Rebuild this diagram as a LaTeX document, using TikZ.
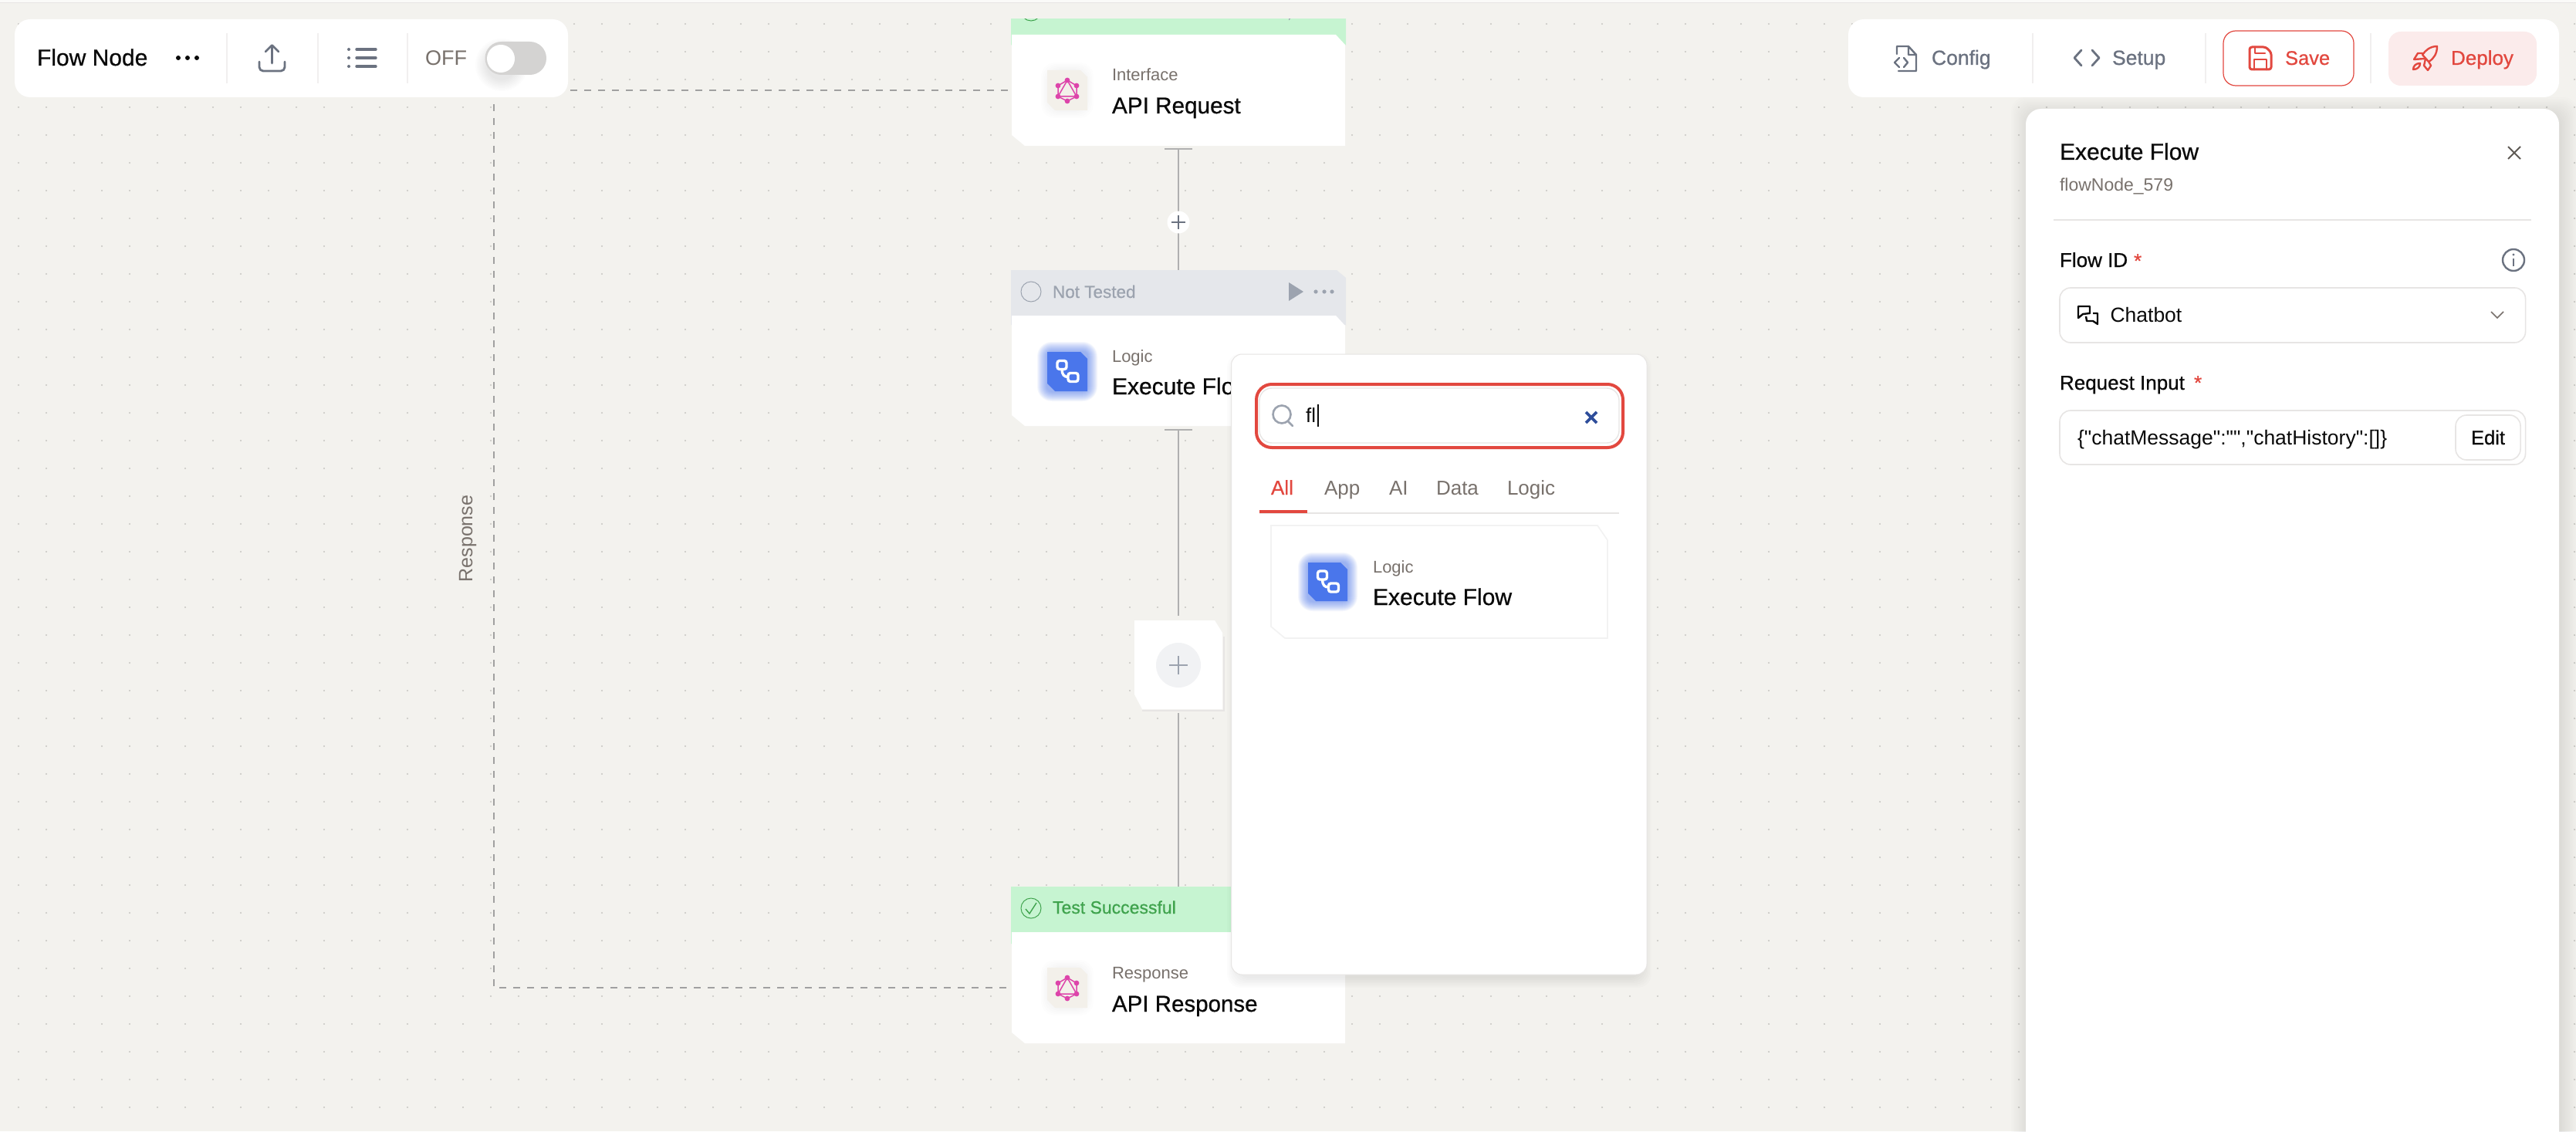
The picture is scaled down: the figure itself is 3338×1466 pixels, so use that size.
\documentclass[tikz,border=0pt]{standalone}
\usepackage{fontspec}
\setmainfont{Liberation Sans}
\newfontfamily\regf{Liberation Sans}
\newfontfamily\medf[FakeBold=0.7]{Liberation Sans}
\newcommand\fsz[1]{\fontsize{\fpeval{#1/2}}{\fpeval{#1/2}}\selectfont}
\definecolor{bgc}{HTML}{F3F2EE}
\definecolor{dotc}{HTML}{C6C6C2}
\definecolor{inkc}{HTML}{0A0A0A}
\definecolor{stonec}{HTML}{78716C}
\definecolor{slatec}{HTML}{6B7280}
\definecolor{mutedc}{HTML}{9CA3AF}
\definecolor{redc}{HTML}{E2483F}
\definecolor{hairc}{HTML}{E7E5E4}
\definecolor{greenh}{HTML}{C6F4D1}
\definecolor{greent}{HTML}{3FA34D}
\definecolor{greyh}{HTML}{E5E7EB}
\definecolor{bluec}{HTML}{4A76EB}
\definecolor{pinkc}{HTML}{DD44AA}
\definecolor{iconbg}{HTML}{F3F0EA}
\definecolor{deployc}{HTML}{FBEBEB}
\definecolor{navyc}{HTML}{2F4E9B}
\definecolor{connc}{HTML}{B0B0B0}
\definecolor{dashc}{HTML}{A0A0A0}
\tikzset{
  tx/.style={anchor=base west,inner sep=0pt,outer sep=0pt},
  rg/.style 2 args={tx,font=\regf\fsz{#1},text=#2},
  md/.style 2 args={tx,font=\medf\fsz{#1},text=#2},
  conn/.style={draw=connc,line width=1pt},
  dashline/.style={draw=dashc,line width=1pt,dash pattern=on 4.5pt off 4.5pt},
  divd/.style={draw=hairc!60!white,line width=.6pt},
  icn/.style={draw=slatec,line width=1.4pt,line cap=round,line join=round},
  redi/.style={draw=redc,line width=1.5pt,line cap=round,line join=round},
}
\def\chamfparse#1/#2/#3/#4\relax{\def\ca{#1}\def\cb{#2}\def\cc{#3}\def\cd{#4}}
% name, cx, cy, w, h, path style, chamfers NE-dx/NE-dy/SW-dx/SW-dy
\newcommand\chamfbox[7]{%
  \chamfparse#7\relax
  \path[#6] (#2-#4/2,#3-#5/2) -- (#2+#4/2-\ca,#3-#5/2) -- (#2+#4/2,#3-#5/2+\cb) -- (#2+#4/2,#3+#5/2)
     -- (#2-#4/2+\cc,#3+#5/2) -- (#2-#4/2,#3+#5/2-\cd) -- cycle;
  \node[rectangle,inner sep=0pt,outer sep=0pt,minimum width=\fpeval{#4/2}pt,minimum height=\fpeval{#5/2}pt] (#1) at (#2,#3) {};}
\newcommand\softglow[5]{% x1 y1 x2 y2 colour
  \foreach \r in {1,...,13}{\fill[#5,opacity=.055,rounded corners=\fpeval{3+\r/2}pt] (#1-\r,#2-\r) rectangle (#3+\r,#4+\r);}}
\newcommand\softshade[6]{% x1 y1 x2 y2 spread opacity
  \foreach \r in {2,4,...,#5}{\fill[black,opacity=#6,rounded corners=9pt] (#1-\r,#2-\r) rectangle (#3+\r,#4+\r);}}
\newcommand\gqlicon[2]{%
  \begin{scope}[shift={(#1,#2)}]
    \draw[pinkc,line width=.75pt,line join=round] (0,-13)--(12,-6)--(12,8)--(0,14)--(-12,8)--(-12,-6)--cycle;
    \draw[pinkc,line width=.75pt,line join=round] (0,-13)--(12,8)--(-12,8)--cycle;
    \foreach \px/\py in {0/-13,12/-6,12/8,0/14,-12/8,-12/-6}{\fill[pinkc] (\px,\py) circle (3.4);}
  \end{scope}}
\newcommand\chainicon[2]{%
  \begin{scope}[shift={(#1,#2)}]
    \draw[white,line width=1.7pt,rounded corners=1.5pt] (-13,-14) rectangle (-1,-3);
    \draw[white,line width=1.7pt,rounded corners=1.5pt] (1,2) rectangle (14,13);
    \draw[white,line width=1.7pt] (-7,-3) .. controls (-7,4) and (-4,7) .. (1,7);
  \end{scope}}
\begin{document}
\begin{tikzpicture}[x=.5pt,y=-.5pt]
\useasboundingbox (0,0) rectangle (3338,1466);
\clip (0,0) rectangle (3338,1466);
% canvas
\fill[bgc] (0,0) rectangle (3338,1466);
\fill[white!60!bgc] (0,0) rectangle (3338,3);
\draw[hairc,line width=.8pt] (0,3.5) -- (3338,3.5);
\foreach \j in {0,...,40}{\draw[dotc,line width=1.2pt,line cap=round,dash pattern=on 0pt off 18pt] (24,31+36*\j) -- (3338,31+36*\j);}

% --- API Request
\begin{scope}
  \clip (1300,25) rectangle (1760,70);
  \chamfbox{hdrReq}{1527}{22}{434}{73}{fill=greenh}{0/0/0/0}
  \draw[greent,line width=.5pt] (1336,14) circle (13);
  \fill[mutedc] (1670,20) -- (1676,20) -- (1670,26.5) -- cycle;
\end{scope}
\chamfbox{cardReq}{1527}{117}{432}{144}{fill=white}{12/13/17/14}
\softshade{1365}{97}{1401}{137}{16}{.006}
\chamfbox{iconReq}{1383}{117}{52}{52}{fill=iconbg}{9/9/10/10}
\gqlicon{1383}{117}
\node[rg={22}{stonec}] (lblIface) at (1441,105) {Interface};
\node[md={29.7}{inkc}] (lblReq) at (1441,147) {API Request};

% --- Not Tested header + Execute Flow card
\chamfbox{hdrTested}{1527}{385.5}{434}{71}{fill=greyh}{12/10/0/0}
\draw[mutedc,line width=.5pt] (1336,378) circle (13);
\node[md={22.5}{mutedc}] (lblTested) at (1364,386) {Not Tested};
\fill[mutedc] (1670,366) -- (1689,378) -- (1670,390) -- cycle;
\foreach \dx in {1705,1716,1726}{\fill[mutedc] (\dx,378) circle (2.6);}
\chamfbox{cardFlow}{1527}{480.5}{432}{143}{fill=white}{12/13/17/14}
\softglow{1357}{456}{1409}{507}{bluec}
\chamfbox{iconFlow}{1383}{481.5}{52}{51}{fill=bluec}{9/9/10/10}
\chainicon{1383}{481.5}
\node[rg={22}{stonec}] (lblLogic) at (1441,469) {Logic};
\node[md={30}{inkc}] (lblFlow) at (1441,511) {Execute Flow};

% --- Plus box
\chamfbox{plusBox}{1527}{861.5}{114}{115}{fill=white}{10/16/10/19}
\draw[hairc,line width=.6pt] (1480,921) -- (1586,921) -- (1586,825);
\node[circle,fill=greyh!55!white,inner sep=0pt,minimum size=29pt] (plusB) at (1527,862) {};
\draw[mutedc,line width=1.1pt] (1515,862) -- (1539,862) (1527,850) -- (1527,874);

% --- Test Successful + API Response
\chamfbox{hdrOk}{1527}{1186}{434}{74}{fill=greenh}{0/0/0/0}
\draw[greent,line width=.5pt] (1336,1177) circle (13);
\draw[greent,line width=.7pt] (1329,1178) -- (1334,1184) -- (1343,1170);
\node[md={23}{greent}] (lblOk) at (1364,1184) {Test Successful};
\chamfbox{cardResp}{1527}{1280}{432}{144}{fill=white}{12/13/17/14}
\softshade{1365}{1260}{1401}{1300}{16}{.006}
\chamfbox{iconResp}{1383}{1280}{52}{52}{fill=iconbg}{9/9/10/10}
\gqlicon{1383}{1280}
\node[rg={22}{stonec}] (lblResp) at (1441,1268) {Response};
\node[md={29.5}{inkc}] (lblApiResp) at (1441,1311) {API Response};

% --- connectors
\coordinate (dashTop) at (640,117);
\coordinate (dashBot) at (640,1280);
\draw[dashline] ([xshift=-2.5pt]cardReq.west) -- (dashTop) -- (dashBot) -- ([xshift=-3pt]cardResp.west);
\draw[conn] ([yshift=-2pt]cardReq.south) -- (hdrTested.north);
\draw[conn] ([xshift=-9pt,yshift=-2pt]cardReq.south) -- ([xshift=9pt,yshift=-2pt]cardReq.south);
\node[circle,fill=white,inner sep=0pt,minimum size=14.5pt] (plusA) at (1527,288) {};
\draw[slatec,line width=.9pt] (1518,288) -- (1536,288) (1527,279) -- (1527,297);
\draw[conn] ([yshift=-2.5pt]cardFlow.south) -- ([yshift=3pt]plusBox.north);
\draw[conn] ([xshift=-9pt,yshift=-2.5pt]cardFlow.south) -- ([xshift=9pt,yshift=-2.5pt]cardFlow.south);
\draw[conn] ([yshift=-2.5pt]plusBox.south) -- (hdrOk.north);
\node[anchor=base,rotate=90,inner sep=0pt,font=\regf\fsz{25},text=stonec] (lblEdge) at (612,698) {Response};

% --- search popup
\softshade{1604}{472}{2126}{1266}{14}{.012}
\fill[white,rounded corners=7pt] (1595.5,459) rectangle (2134,1263);
\draw[hairc,line width=.5pt,rounded corners=7pt] (1595.5,459) rectangle (2134,1263);
\draw[redc,line width=2pt,rounded corners=10pt] (1628,498) rectangle (2103,580);
\draw[hairc,line width=.7pt,rounded corners=8pt] (1632,503) rectangle (2098,574);
\draw[mutedc,line width=1.3pt] (1661,537) circle (11.5);
\draw[mutedc,line width=1.3pt,line cap=round] (1669,546) -- (1675,552);
\node[rg={26}{inkc}] (qText) at (1692,547) {fl};
\draw[inkc,line width=.9pt] (1708,524) -- (1708,553);
\draw[navyc,line width=1.9pt] (2055,534) -- (2069,548) (2069,534) -- (2055,548);
\node[md={26}{redc}] (tabAll) at (1647,641) {All};
\node[rg={26}{stonec}] (tabApp) at (1716,641) {App};
\node[rg={26}{stonec}] (tabAI) at (1800,641) {AI};
\node[rg={26}{stonec}] (tabData) at (1861,641) {Data};
\node[rg={26}{stonec}] (tabLogic) at (1953,641) {Logic};
\draw[hairc,line width=.7pt] (1632,665) -- (2098,665);
\draw[redc,line width=1.6pt] (1632,663) -- (1694,663);
\chamfbox{cardPick}{1865}{754}{436}{146}{fill=white,draw=black!5,line width=.8pt}{13/19/18/15}
\softglow{1695}{729}{1746}{779}{bluec}
\chamfbox{iconPick}{1720.5}{754}{51}{50}{fill=bluec}{9/9/10/10}
\chainicon{1720.5}{754}
\node[rg={22}{stonec}] (pickLogic) at (1779,742) {Logic};
\node[md={30}{inkc}] (pickFlow) at (1779,784) {Execute Flow};

% --- left toolbar
\fill[white,rounded corners=10pt] (19,25) rectangle (736,126);
\node[md={30}{inkc}] (title) at (48,85) {Flow Node};
\foreach \dx in {231,243,255}{\fill[inkc] (\dx,75) circle (3);}
\foreach \dx in {294,412,528}{\draw[divd] (\dx,43) -- (\dx,108);}
\draw[icn] (352.5,82) -- (352.5,59) (344,67) -- (352.5,58.5) -- (361,67);
\draw[icn,rounded corners=2.5pt] (336,80) -- (336,92) -- (369,92) -- (369,80);
\foreach \ly in {64,75,86}{\fill[slatec] (452,\ly) circle (2); \draw[slatec,line width=1.7pt,line cap=round] (462,\ly) -- (487,\ly);}
\node[rg={27}{stonec}] (offLbl) at (551,85) {OFF};
\foreach \r in {2,4,...,16}{\fill[black,opacity=.012] (650,84) circle (18+\r);}
\fill[hairc!92!black,rounded corners=10.7pt] (628.5,54) rectangle (708,97);
\fill[white] (649,76) circle (18);

% --- right toolbar
\fill[white,rounded corners=10pt] (2395,25) rectangle (3316,126);
\foreach \dx in {2634,2858,3072}{\draw[divd] (\dx,43) -- (\dx,108);}
\draw[icn,line width=1.2pt] (2458,70) -- (2458,60) -- (2473,60) -- (2483,71) -- (2483,92) -- (2460,92) (2473,60) -- (2473,71) -- (2483,71);
\draw[icn,line width=1.2pt] (2461,75) -- (2455,81) -- (2461,87) (2467,75) -- (2472,81) -- (2467,87);
\node[md={26.5}{slatec}] (cfg) at (2503,84) {Config};
\draw[icn] (2697,65) -- (2688,75) -- (2697,85) (2711,65) -- (2720,75) -- (2711,85);
\node[md={26.5}{slatec}] (setup) at (2737,84) {Setup};
\draw[redc,line width=.6pt,rounded corners=8pt] (2881,40) rectangle (3050,111);
\draw[redi,rounded corners=1.5pt] (2915,61) -- (2936,61) -- (2943,68) -- (2943,90) -- (2915,90) -- cycle;
\draw[redi,line width=1.4pt] (2922,61) -- (2922,69) -- (2935,69) (2921,90) -- (2921,77) -- (2937,77) -- (2937,90);
\node[md={25.5}{redc}] (save) at (2961,84) {Save};
\fill[deployc,rounded corners=8pt] (3095,41) rectangle (3287,111);
\draw[redi,line width=1.2pt] (3158,60) .. controls (3149,60) and (3143,65) .. (3139,71) -- (3147,80) .. controls (3154,76) and (3158,69) .. cycle;
\draw[redi,line width=1.2pt] (3139,69) -- (3133,69) -- (3128,77) -- (3142,76);
\draw[redi,line width=1.2pt] (3147,80) -- (3150,85) -- (3146,91) -- (3141,85) -- (3143,76);
\draw[redi,line width=1.2pt] (3127,90) .. controls (3127,85) and (3131,82) .. (3136,82) .. controls (3136,87) and (3132,90) .. cycle;
\node[md={26}{redc}] (deploy) at (3176,84) {Deploy};

% --- side panel
\softshade{2630}{150}{3316}{1500}{24}{.006}
\fill[white,rounded corners=10pt] (2625,141) rectangle (3316,1520);
\node[md={30}{inkc}] (panelTitle) at (2669,207) {Execute Flow};
\node[rg={23}{stonec}] (panelId) at (2669,248) {flowNode\_579};
\draw[stonec!80!black,line width=1pt] (3250,190) -- (3266,206) (3266,190) -- (3250,206);
\draw[hairc,line width=.7pt] (2661,285) -- (3280,285);
\node[md={26}{inkc}] (lblFlowId) at (2669,346) {Flow ID};
\node[md={26}{redc}] (starA) at (2765,347) {*};
\draw[slatec,line width=1.2pt] (3257,337) circle (14);
\fill[slatec] (3257,330) circle (1.6);
\draw[slatec,line width=1.2pt] (3257,335) -- (3257,345);
\draw[hairc,line width=.8pt,rounded corners=7pt] (2669,373) rectangle (3272.5,444);
\draw[inkc,line width=1.2pt,line join=round] (2693,412) -- (2693,397) -- (2708,397) -- (2708,406) -- (2699,407) -- cycle;
\draw[inkc,line width=1.2pt,line join=round] (2712,406) -- (2718,406) -- (2718,420) -- (2712,416) -- (2704,416) -- (2703,410);
\node[rg={26.5}{inkc}] (chatbot) at (2734.5,417) {Chatbot};
\draw[stonec,line width=.8pt] (3228,404) -- (3236,412) -- (3244,404);
\node[md={26}{inkc}] (lblInput) at (2669,505) {Request Input};
\node[md={26}{redc}] (starB) at (2843,505) {*};
\draw[hairc,line width=.8pt,rounded corners=7pt] (2669,532) rectangle (3272.5,602);
\node[rg={26.5}{inkc}] (jsonText) at (2692,576) {\{"chatMessage":"","chatHistory":[]\}};
\draw[hairc,line width=.8pt,rounded corners=7pt] (3182,538) rectangle (3266,596);
\node[md={25.5}{inkc}] (editBtn) at (3202,576) {Edit};
\end{tikzpicture}
\end{document}
